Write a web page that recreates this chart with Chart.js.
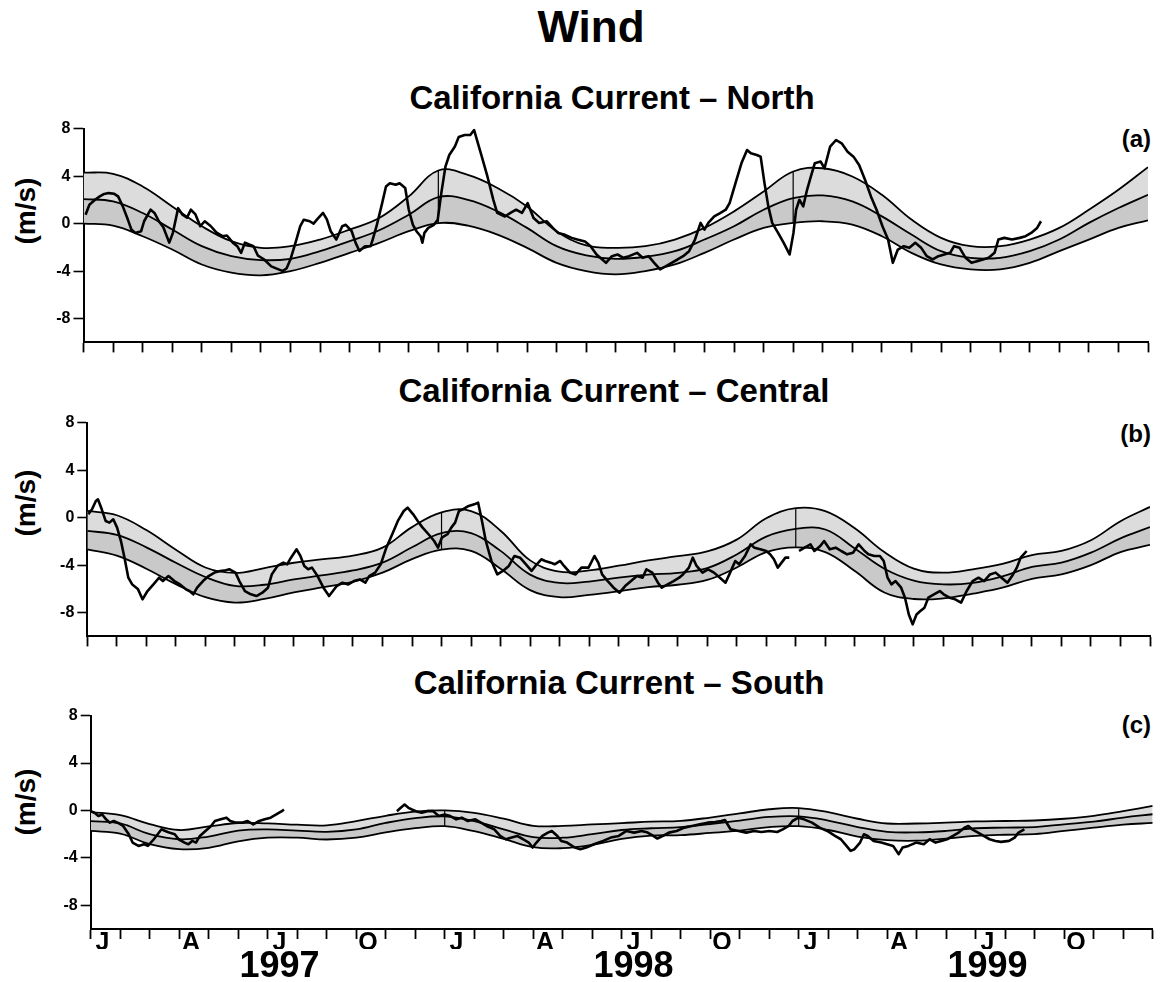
<!DOCTYPE html>
<html>
<head>
<meta charset="utf-8">
<script src="https://cdn.jsdelivr.net/npm/chart.js@4.4.1/dist/chart.umd.min.js"></script>
<style>
  html, body { margin: 0; padding: 0; background: #ffffff; }
  body { width: 1166px; height: 982px; position: relative; overflow: hidden;
         font-family: "Liberation Sans", Arial, Helvetica, sans-serif; }
  .t { position: absolute; font-weight: bold; color: #000; white-space: nowrap; }
  canvas { position: absolute; left: 0; }
</style>
</head>
<body>
<div class="t" style="left:591px; top:5px; font-size:44px; line-height:44px; transform:translateX(-50%);">Wind</div>

<div class="t" style="left:612px; top:81px; font-size:33px; line-height:33px; transform:translateX(-50%);">California Current – North</div>
<div class="t" style="left:614px; top:374px; font-size:33px; line-height:33px; transform:translateX(-50%);">California Current – Central</div>
<div class="t" style="left:619px; top:666px; font-size:33px; line-height:33px; transform:translateX(-50%);">California Current – South</div>

<div class="t" style="left:26px; top:211px; font-size:28px; line-height:28px; transform:translate(-50%,-50%) rotate(-90deg);">(m/s)</div>
<div class="t" style="left:26px; top:503px; font-size:28px; line-height:28px; transform:translate(-50%,-50%) rotate(-90deg);">(m/s)</div>
<div class="t" style="left:26px; top:802px; font-size:28px; line-height:28px; transform:translate(-50%,-50%) rotate(-90deg);">(m/s)</div>

<div class="t" style="right:15px; top:127px; font-size:24px; line-height:24px;">(a)</div>
<div class="t" style="right:15px; top:422px; font-size:24px; line-height:24px;">(b)</div>
<div class="t" style="right:15px; top:713px; font-size:24px; line-height:24px;">(c)</div>

<canvas id="panelA" width="1166" height="239" style="top:116px;"></canvas>
<canvas id="panelB" width="1166" height="239" style="top:410px;"></canvas>
<canvas id="panelC" width="1166" height="279" style="top:703px;"></canvas>

<script>
// ---------- axis / tick values ----------
const months = [0,1,2,3,4,5,6,7,8,9,10,11,12,13,14,15,16,17,18,19,20,21,22,23,24,25,26,27,28,29,30,31,32,33,34,35,36];
const yTickValues = [-8, -4, 0, 4, 8];
const monthTickPos = [0.4,3.4,6.4,9.4,12.4,15.4,18.4,21.4,24.4,27.4,30.4,33.4];
const monthTickLabels = ['J','A','J','O','J','A','J','O','J','A','J','O'];
const yearTickPos = [6.4, 18.4, 30.4];
const yearTickLabels = ['1997', '1998', '1999'];
const yearBoundaryIdx = [12, 24];

// ---------- North (a): climatology band (monthly) ----------
const northUpper  = [4.3,4.19,3.13,1.45,-0.22,-1.48,-2.04,-1.9,-1.34,-0.5,0.47,2.29,4.47,4.1,3.0,1.45,-0.64,-1.84,-2.04,-1.9,-1.34,-0.36,1.03,2.7,4.39,4.66,3.97,2.43,0.34,-1.2,-1.9,-1.9,-1.34,-0.36,1.17,2.85,4.75];
const northCenter = [2.07,1.87,0.89,-0.5,-1.9,-2.74,-3.07,-2.96,-2.32,-1.48,-0.56,0.75,2.23,2.0,1.03,-0.36,-1.9,-2.68,-2.96,-2.79,-2.32,-1.34,-0.22,1.17,2.15,2.37,1.87,0.61,-0.92,-2.32,-2.88,-2.88,-2.32,-1.34,0.06,1.31,2.43];
const northLower  = [0,-0.17,-1.06,-2.18,-3.44,-4.13,-4.36,-4.0,-3.3,-2.46,-1.62,-0.64,0.05,-0.17,-0.92,-2.04,-3.3,-4.0,-4.27,-4.0,-3.44,-2.46,-1.34,-0.36,0.06,0.2,-0.08,-1.06,-2.46,-3.44,-3.85,-3.85,-3.3,-2.32,-1.34,-0.36,0.28];
// North observed wind
const northObsMonth = [
  0.07,0.2,0.39,0.55,0.7,0.85,1.04,1.17,1.33,1.5,
  1.62,1.75,1.95,2.05,2.27,2.4,2.55,2.7,2.9,3.02,
  3.2,3.35,3.5,3.63,3.78,3.95,4.1,4.3,4.5,4.7,
  4.85,5.05,5.2,5.33,5.46,5.6,5.75,5.9,6.1,6.35,
  6.74,6.87,7.0,7.2,7.33,7.45,7.65,7.78,7.9,8.1,
  8.23,8.36,8.55,8.75,8.87,9.07,9.2,9.33,9.52,9.71,
  9.78,9.91,10.1,10.23,10.36,10.56,10.69,10.88,11.0,11.14,
  11.26,11.4,11.46,11.53,11.66,11.85,11.98,12.1,12.24,12.37,
  12.56,12.69,12.89,13.08,13.21,13.34,13.47,13.66,13.86,13.99,
  14.25,14.44,14.63,14.83,15.02,15.22,15.41,15.67,15.87,16.05,
  16.25,16.51,16.7,16.96,17.15,17.35,17.67,17.87,18.06,18.26,
  18.45,18.72,18.91,19.11,19.3,19.5,19.7,19.89,20.09,20.28,
  20.48,20.68,20.87,21.0,21.13,21.33,21.53,21.72,21.85,22.05,
  22.25,22.44,22.57,22.77,22.9,23.03,23.16,23.29,23.49,23.68,
  23.88,24.01,24.1,24.21,24.34,24.47,24.6,24.73,24.93,25.06,
  25.25,25.45,25.64,25.84,26.04,26.23,26.43,26.63,26.82,27.02,
  27.21,27.37,27.54,27.74,27.93,28.13,28.33,28.52,28.72,28.91,
  29.11,29.31,29.44,29.63,29.83,30.03,30.22,30.42,30.61,30.81,
  30.94,31.14,31.4,31.66,31.86,32.05,32.25,32.38];
const northObsValue = [
  0.75,1.59,2.01,2.29,2.5,2.57,2.51,2.29,1.45,0.34,
  -0.5,-0.78,-0.64,0.2,1.17,0.9,0.2,-0.3,-1.6,-0.8,
  1.3,0.75,0.5,1.17,0.8,-0.22,0.2,-0.2,-0.75,-1.06,
  -1.0,-1.6,-1.9,-2.46,-1.6,-1.75,-1.9,-2.7,-3.0,-3.6,
  -4.0,-3.75,-3.0,-1.34,-0.22,0.33,0.2,0.0,0.35,0.9,
  0.35,-0.64,-1.34,-0.22,-0.1,-0.64,-1.6,-2.3,-1.9,-1.9,
  -1.34,-0.22,1.73,3.13,3.4,3.27,3.4,3.0,1.17,-0.1,
  -0.64,-1.06,-1.6,-0.78,-0.36,-0.1,0.33,2.57,4.8,5.78,
  6.5,7.3,7.46,7.46,7.88,6.76,5.64,3.97,2.0,0.9,
  0.6,0.9,1.17,0.9,1.73,0.47,0.06,0.2,-0.36,-0.78,
  -0.92,-1.2,-1.34,-1.5,-1.9,-2.6,-3.3,-2.74,-2.6,-2.88,
  -2.74,-2.46,-2.88,-2.74,-3.3,-3.85,-3.58,-3.3,-3.02,-2.74,
  -2.32,-1.34,0.06,-0.5,0.06,0.61,0.89,1.17,1.73,3.41,
  5.08,6.2,5.92,5.78,5.64,3.41,1.45,0.06,-0.78,-1.62,
  -2.6,-0.78,1.17,2.01,1.45,2.85,3.97,5.08,5.22,4.66,
  6.48,7.04,6.76,6.06,5.64,4.94,3.69,2.29,1.17,-0.22,
  -1.34,-3.3,-2.18,-1.9,-2.04,-1.62,-2.04,-2.74,-3.02,-2.74,
  -2.6,-2.46,-1.9,-2.04,-2.88,-3.3,-3.16,-3.02,-2.88,-2.46,
  -1.34,-1.2,-1.34,-1.2,-1.06,-0.78,-0.36,0.2];

// ---------- Central (b) ----------
const centralUpper  = [0.56,0.2,-1.05,-2.7,-4.2,-4.65,-4.25,-3.8,-3.5,-3.2,-2.53,-0.8,0.45,0.55,-1.1,-3.6,-4.55,-4.45,-4.05,-3.6,-3.25,-2.85,-1.85,-0.05,0.8,0.55,-0.9,-2.9,-4.3,-4.63,-4.35,-3.9,-3.15,-2.8,-1.9,-0.3,0.9];
const centralCenter = [-1.12,-1.45,-2.5,-3.8,-5.0,-5.75,-5.65,-5.2,-4.85,-4.45,-3.79,-2.5,-1.3,-1.3,-2.8,-4.8,-5.5,-5.38,-5.05,-4.8,-4.65,-4.25,-3.1,-1.6,-0.95,-1.0,-2.6,-4.3,-5.3,-5.62,-5.5,-4.95,-4.15,-3.79,-2.95,-1.75,-0.8];
const centralLower  = [-2.67,-3.2,-4.3,-5.6,-6.7,-7.15,-6.85,-6.3,-5.85,-5.4,-4.63,-3.5,-2.7,-2.8,-4.3,-6.1,-6.7,-6.5,-6.2,-5.85,-5.65,-5.25,-4.2,-2.9,-2.5,-2.9,-4.5,-6.3,-6.85,-6.8,-6.4,-5.9,-5.15,-4.78,-4.0,-2.9,-2.3];
const centralObsMonth = [
  0.035,0.16,0.29,0.36,0.49,0.62,0.75,0.88,1.01,1.14,
  1.26,1.39,1.52,1.72,1.87,2.04,2.24,2.43,2.56,2.75,
  2.95,3.14,3.34,3.46,3.59,3.72,3.92,4.11,4.31,4.5,
  4.69,4.82,5.02,5.15,5.34,5.54,5.73,5.93,6.12,6.25,
  6.44,6.64,6.77,6.9,7.09,7.22,7.35,7.48,7.61,7.8,
  8.0,8.19,8.32,8.45,8.64,8.84,9.03,9.23,9.42,9.55,
  9.75,9.94,10.13,10.33,10.52,10.72,10.85,11.04,11.23,11.36,
  11.56,11.75,11.88,12.01,12.2,12.33,12.46,12.59,12.72,12.92,
  13.11,13.24,13.37,13.5,13.69,13.89,14.08,14.28,14.47,14.66,
  14.86,15.05,15.18,15.38,15.51,15.7,15.83,16.02,16.15,16.35,
  16.54,16.74,16.98,17.18,17.31,17.44,17.63,17.83,18.03,18.22,
  18.42,18.62,18.81,18.94,19.14,19.33,19.46,19.66,19.86,20.05,
  20.18,20.38,20.51,20.64,20.84,21.03,21.23,21.43,21.62,21.75,
  21.95,22.08,22.28,22.47,22.6,22.8,23.0,23.13,23.26,23.39,
  23.52,23.65,23.78,23.9,24.11,24.3,24.5,24.63,24.83,24.96,
  25.15,25.35,25.54,25.74,25.94,26.13,26.33,26.46,26.66,26.85,
  26.98,27.11,27.24,27.38,27.57,27.7,27.83,27.96,28.09,28.22,
  28.36,28.49,28.68,28.88,29.01,29.21,29.4,29.6,29.79,29.99,
  30.19,30.38,30.58,30.77,30.97,31.17,31.36,31.49,31.62,31.82];
const centralObsValue = [
  0.28,0.7,1.4,1.54,0.7,-0.28,-0.42,-0.14,-0.84,-1.97,
  -3.37,-5.06,-5.62,-6.04,-6.88,-6.18,-5.62,-5.06,-5.34,-4.92,
  -5.34,-5.62,-6.04,-6.18,-6.46,-5.9,-5.34,-4.92,-4.63,-4.49,
  -4.44,-4.35,-4.63,-5.34,-6.18,-6.46,-6.6,-6.32,-5.9,-4.78,
  -4.07,-3.79,-3.93,-3.37,-2.67,-3.23,-4.07,-4.35,-4.21,-4.92,
  -5.9,-6.6,-6.18,-5.76,-5.48,-5.62,-5.34,-5.2,-5.48,-4.92,
  -4.63,-3.93,-2.53,-1.4,-0.28,0.56,0.84,0.28,-0.42,-0.84,
  -1.4,-1.97,-2.53,-1.69,-1.4,-0.84,-0.42,0.56,0.7,0.98,
  1.12,1.26,-0.28,-1.97,-3.65,-4.78,-4.49,-4.07,-3.23,-3.37,
  -3.93,-4.49,-4.07,-3.51,-3.65,-3.79,-3.93,-3.65,-4.07,-4.63,
  -4.78,-4.21,-4.21,-3.23,-3.79,-4.78,-5.34,-5.9,-6.32,-5.76,
  -5.34,-4.92,-5.06,-4.35,-4.63,-5.48,-5.9,-5.62,-5.34,-5.06,
  -4.78,-4.21,-3.37,-4.07,-4.63,-4.35,-4.63,-5.06,-5.48,-4.78,
  -3.65,-3.93,-3.23,-2.25,-2.53,-2.67,-2.81,-3.09,-3.51,-4.21,
  -3.79,-3.37,-3.37,null,-2.81,-2.53,-2.25,-2.81,-2.39,-1.97,
  -2.67,-2.53,-2.81,-3.09,-2.95,-2.25,-2.81,-3.09,-3.23,-3.23,
  -3.65,-5.06,-5.62,-5.34,-5.9,-6.74,-8.15,-8.99,-8.15,-7.87,
  -7.58,-6.74,-6.46,-6.18,-6.46,-6.74,-6.88,-7.16,-6.18,-5.34,
  -5.06,-5.34,-4.78,-4.63,-5.06,-5.48,-4.78,-4.21,-3.37,-2.81];

// ---------- South (c) ----------
const southUpper  = [-0.14,-0.4,-1.15,-1.65,-1.35,-1.06,-1.09,-1.2,-1.26,-0.9,-0.45,-0.1,0,-0.2,-0.7,-1.3,-1.3,-1.18,-1.07,-0.95,-0.88,-0.6,-0.25,0.1,0.2,-0.15,-0.7,-1.1,-1.1,-1.03,-0.93,-0.89,-0.85,-0.7,-0.45,-0.05,0.38];
const southCenter = [-0.9,-1.1,-2.0,-2.43,-2.2,-1.7,-1.6,-1.7,-1.8,-1.6,-1.05,-0.65,-0.5,-0.9,-1.6,-2.25,-2.3,-2.0,-1.65,-1.5,-1.4,-1.15,-0.85,-0.55,-0.5,-0.85,-1.4,-1.8,-1.85,-1.73,-1.5,-1.45,-1.4,-1.17,-0.95,-0.6,-0.32];
const southLower  = [-1.73,-1.95,-2.85,-3.27,-3.15,-2.6,-2.3,-2.3,-2.45,-2.3,-1.85,-1.5,-1.33,-1.75,-2.4,-3.1,-3.18,-2.9,-2.4,-2.12,-2.08,-1.9,-1.7,-1.4,-1.33,-1.65,-2.2,-2.5,-2.55,-2.37,-2.15,-2.05,-2.0,-1.73,-1.45,-1.2,-1.05];
const southObsMonth = [
  0.0,0.13,0.26,0.39,0.52,0.65,0.78,0.91,1.1,1.29,
  1.42,1.62,1.81,1.94,2.14,2.27,2.4,2.53,2.66,2.85,
  2.98,3.18,3.31,3.44,3.57,3.7,3.89,4.08,4.21,4.41,
  4.6,4.73,4.93,5.12,5.32,5.51,5.71,5.9,6.1,6.29,
  6.48,6.55,8.0,10.38,10.51,10.64,10.77,10.89,11.02,11.22,
  11.41,11.61,11.8,12.0,12.19,12.39,12.58,12.78,13.04,13.23,
  13.42,13.68,13.88,14.07,14.27,14.46,14.66,14.85,14.98,15.11,
  15.31,15.5,15.63,15.82,15.95,16.15,16.41,16.6,16.8,17.06,
  17.37,17.63,17.9,18.16,18.42,18.68,18.88,19.07,19.21,19.4,
  19.6,19.86,20.12,20.38,20.65,20.91,21.17,21.37,21.5,21.69,
  21.96,22.22,22.48,22.74,23.0,23.27,23.46,23.66,23.79,23.99,
  24.18,24.45,24.71,24.97,25.23,25.43,25.62,25.76,25.89,26.08,
  26.21,26.34,26.54,26.8,27.0,27.2,27.39,27.52,27.72,27.98,
  28.24,28.44,28.64,28.83,29.03,29.23,29.42,29.62,29.75,29.88,
  30.08,30.27,30.47,30.67,30.86,31.13,31.32,31.45,31.65];
const southObsValue = [
  -0.06,-0.2,-0.47,-0.34,-0.75,-1.03,-0.89,-1.03,-1.31,-2.01,
  -2.71,-2.99,-2.85,-2.99,-2.43,-2.01,-1.59,-1.73,-1.87,-2.01,
  -2.43,-2.71,-2.85,-2.57,-2.71,-2.15,-1.73,-1.31,-0.89,-0.75,
  -0.61,-0.89,-1.03,-1.03,-0.89,-1.17,-0.89,-0.75,-0.61,-0.34,
  -0.06,0.08,null,-0.06,0.22,0.5,0.22,0.08,-0.06,-0.2,
  -0.06,-0.06,-0.47,-0.34,-0.47,-0.75,-0.61,-0.89,-0.75,-1.03,
  -1.31,-1.59,-2.15,-2.43,-2.29,-2.15,-2.43,-2.71,-3.13,-2.71,
  -2.15,-1.87,-1.73,-2.15,-2.57,-2.71,-3.13,-3.27,-3.13,-2.85,
  -2.57,-2.29,-2.15,-1.73,-1.87,-1.73,-1.87,-2.15,-2.37,-2.15,
  -1.87,-1.73,-1.45,-1.31,-1.17,-1.03,-0.98,-0.89,-0.81,-1.59,
  -1.73,-1.87,-1.73,-1.82,-1.73,-1.82,-1.59,-1.31,-0.89,-0.61,
  -0.75,-1.03,-1.45,-1.73,-2.15,-2.43,-2.99,-3.41,-3.27,-2.71,
  -2.01,-2.15,-2.57,-2.71,-2.85,-2.99,-3.69,-3.13,-2.99,-2.71,
  -2.85,-2.43,-2.71,-2.57,-2.43,-2.15,-1.87,-1.45,-1.31,-1.59,
  -1.87,-2.15,-2.43,-2.57,-2.65,-2.57,-2.29,-1.87,-1.59];

// ---------- drawing ----------
Chart.defaults.font.family = '"Liberation Sans", Arial, Helvetica, sans-serif';
Chart.defaults.color = '#000';

function buildPanel(canvasId, p) {
  const toPts = (arr) => months.map((m, i) => ({ x: m, y: arr[i] }));
  const obsPts = p.obsMonth.map((m, i) => ({ x: m, y: p.obsValue[i] }));
  const vline = (k) => [{ x: months[k], y: p.upper[k] }, { x: months[k], y: p.lower[k] }];

  const bandStyle = { borderColor: '#000', borderWidth: 1.8, pointRadius: 0, tension: 0.4 };
  const datasets = [
    Object.assign({ label: 'upper', data: toPts(p.upper), fill: '+1', backgroundColor: '#dcdcdc', order: 3 }, bandStyle),
    Object.assign({ label: 'mean', data: toPts(p.center), fill: '+1', backgroundColor: '#c9c9c9', order: 3 }, bandStyle),
    Object.assign({ label: 'lower', data: toPts(p.lower), fill: false, order: 3 }, bandStyle),
  ];
  yearBoundaryIdx.forEach((k) => {
    datasets.push({ label: 'edge', data: vline(k), borderColor: '#000', borderWidth: 1.2, pointRadius: 0, tension: 0, fill: false, order: 2 });
  });
  datasets.push({ label: 'observed', data: obsPts, borderColor: '#000', borderWidth: 2.6, pointRadius: 0,
                  tension: 0, fill: false, spanGaps: false, order: 0, borderJoinStyle: 'round' });

  const scales = {
    x: {
      type: 'linear', min: 0, max: 36, position: 'bottom', weight: 0,
      afterBuildTicks: (s) => { s.ticks = months.map((v) => ({ value: v })); },
      ticks: { display: false },
      grid: { display: true, drawOnChartArea: false, drawTicks: true, tickLength: 10, tickWidth: 1.8, tickColor: '#000' },
      border: { display: true, color: '#000', width: 2 },
      afterFit: (s) => { s.height = p.xHeight; }
    },
    y: {
      type: 'linear', min: -10, max: 8, position: 'left',
      afterBuildTicks: (s) => { s.ticks = yTickValues.map((v) => ({ value: v })); },
      ticks: { color: '#000', padding: 3, font: { size: 16, weight: 'bold' } },
      grid: { display: true, drawOnChartArea: false, drawTicks: true, tickLength: 10, tickWidth: 1.6, tickColor: '#000' },
      border: { display: true, color: '#000', width: 2 },
      afterFit: (s) => { s.width = p.left; }
    }
  };
  if (p.labels) {
    scales.xm = {
      type: 'linear', axis: 'x', min: 0, max: 36, position: 'bottom', weight: 1,
      afterBuildTicks: (s) => { s.ticks = monthTickPos.map((v) => ({ value: v })); },
      ticks: { autoSkip: false, maxRotation: 0, minRotation: 0, padding: 0, color: '#000',
               font: { size: 25, weight: 'bold', lineHeight: 1 },
               callback: (v, i) => monthTickLabels[i] },
      grid: { display: false, drawTicks: false },
      border: { display: false },
      afterFit: (s) => { s.height = 18; }
    };
    scales.xy = {
      type: 'linear', axis: 'x', min: 0, max: 36, position: 'bottom', weight: 2,
      afterBuildTicks: (s) => { s.ticks = yearTickPos.map((v) => ({ value: v })); },
      ticks: { autoSkip: false, maxRotation: 0, minRotation: 0, padding: 0, color: '#000',
               font: { size: 36, weight: 'bold', lineHeight: 1 },
               callback: (v, i) => yearTickLabels[i] },
      grid: { display: false, drawTicks: false },
      border: { display: false },
      afterFit: (s) => { s.height = 33; }
    };
  }

  new Chart(document.getElementById(canvasId), {
    type: 'line',
    data: { datasets },
    options: {
      responsive: false,
      devicePixelRatio: 1,
      animation: false,
      layout: { padding: { top: 12, left: 0, right: 1166 - p.right, bottom: 0 } },
      plugins: {
        legend: { display: false },
        title: { display: false },
        tooltip: { enabled: false },
        filler: { propagate: false, drawTime: 'beforeDatasetsDraw' }
      },
      scales
    }
  });
}

buildPanel('panelA', { upper: northUpper, center: northCenter, lower: northLower,
  obsMonth: northObsMonth, obsValue: northObsValue, left: 83.5, right: 1148, xHeight: 12, labels: false });
buildPanel('panelB', { upper: centralUpper, center: centralCenter, lower: centralLower,
  obsMonth: centralObsMonth, obsValue: centralObsValue, left: 87.3, right: 1150, xHeight: 12, labels: false });
buildPanel('panelC', { upper: southUpper, center: southCenter, lower: southLower,
  obsMonth: southObsMonth, obsValue: southObsValue, left: 90.7, right: 1152.7, xHeight: 2, labels: true });
</script>
</body>
</html>
